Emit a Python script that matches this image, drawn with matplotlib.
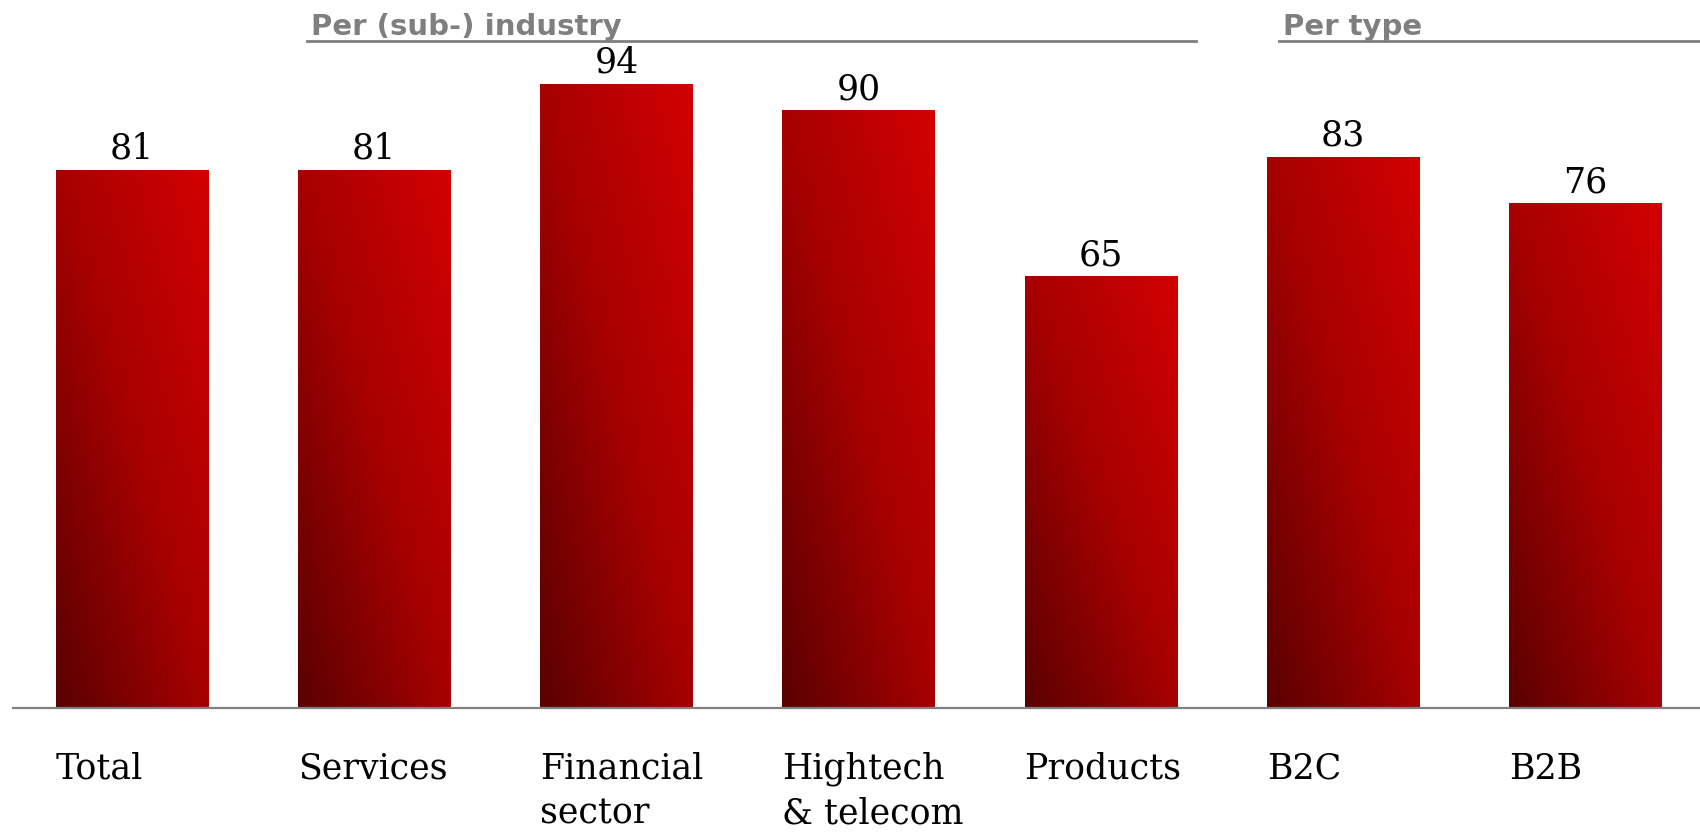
import matplotlib
matplotlib.use("Agg")
import matplotlib.pyplot as plt
import numpy as np
from matplotlib.colors import LinearSegmentedColormap

categories = ["Total", "Services", "Financial\nsector", "Hightech\n& telecom", "Products", "B2C", "B2B"]
values = [81, 81, 94, 90, 65, 83, 76]
groups = [("Per (sub-) industry", 0.7225, 4.393), ("Per type", 4.736, 6.474)]

SERIF = {'family': 'DejaVu Serif', 'size': 25}
GREY = '#7f7f7f'

cmap = LinearSegmentedColormap.from_list('redgrad', ['#5a0000', '#a60000', '#d30000'])

fig = plt.figure(figsize=(17, 8.34), dpi=100)
ax = fig.add_axes([0, 0, 1, 1])
ax.set_xlim(-0.545, 6.474)
ax.set_ylim(-18.98, 106.6)
ax.axis('off')

x = np.arange(len(values))
bars = ax.bar(x, values, width=0.63, color='none', edgecolor='none')

# diagonal gradient fill: dark bottom-left -> bright top-right
u, v = np.meshgrid(np.linspace(0, 1, 100), np.linspace(0, 1, 200))
grad = (u + v) / 2
for b in bars:
    x0, w, h = b.get_x(), b.get_width(), b.get_height()
    im = ax.imshow(grad, cmap=cmap, extent=[x0, x0 + w, 0, h], origin='lower',
                   aspect='auto', vmin=0, vmax=1, zorder=2)
    im.set_clip_path(b)

# value labels
for xi, val in zip(x, values):
    ax.annotate(str(val), (xi, val), xytext=(0, 8), textcoords='offset points',
                ha='center', va='baseline', color='black', **SERIF)

# baseline
ax.plot([-0.491, 6.474], [0, 0], color='#808080', lw=1.6, zorder=3, clip_on=False)

# category labels, left aligned at bar edge
for b, lab in zip(bars, categories):
    ax.text(b.get_x(), -6.6, lab, ha='left', va='top', linespacing=1.38, **SERIF)

# group headers with rule below
for name, gx0, gx1 in groups:
    ax.plot([gx0, gx1], [100.45, 100.45], color=GREY, lw=2, clip_on=False)
    ax.text(gx0 + 0.016, 101.4, name, ha='left', va='baseline', color=GREY,
            fontsize=21, fontweight='bold', family='DejaVu Sans')

fig.savefig('out.png', dpi=100)
